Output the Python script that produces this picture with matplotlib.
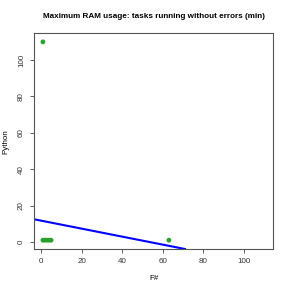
import numpy as np
import matplotlib
matplotlib.use("Agg")
import matplotlib.pyplot as plt

# data
fsharp = [1, 1, 2, 3, 4, 5, 63]
python = [110, 1, 1, 1, 1, 1, 1]
fit_intercept = 11.75
fit_slope = -0.22
ticks = [0, 20, 40, 60, 80, 100]

plt.rcParams['font.family'] = ['Liberation Sans', 'DejaVu Sans']

fig = plt.figure(figsize=(2.91, 2.91), dpi=100)
ax = fig.add_axes([34 / 291, 1 - 249 / 291, (273.3 - 34) / 291, (249 - 33.3) / 291])

ax.scatter(fsharp, python, s=12, color="#2ca02c", edgecolors="none", zorder=3)
ax.axline((0, fit_intercept), slope=fit_slope, color="blue", lw=1.5, zorder=2)

ax.set_xlim(-3.4, 114.4)
ax.set_ylim(-3.85, 114.7)
ax.set_xticks(ticks)
ax.set_yticks(ticks)
ax.set_yticklabels([str(t) for t in ticks], rotation=90, va="center")
ax.tick_params(labelsize=5.8, length=3, width=0.6, color="#444444",
               labelcolor="#333333", pad=3.5)
for s in ax.spines.values():
    s.set_color("#555555")
    s.set_linewidth(0.8)

ax.set_xlabel("F#", fontsize=5.8, labelpad=7)
ax.set_ylabel("Python", fontsize=5.8, labelpad=6)
# title centred over the plot region, like R does
fig.text((34 + 273.3) / 2 / 291, 1 - 17 / 291,
         "Maximum RAM usage: tasks running without errors (min)",
         ha="center", va="center", fontsize=5.9, fontweight="bold")

fig.savefig("out.png", dpi=100)
